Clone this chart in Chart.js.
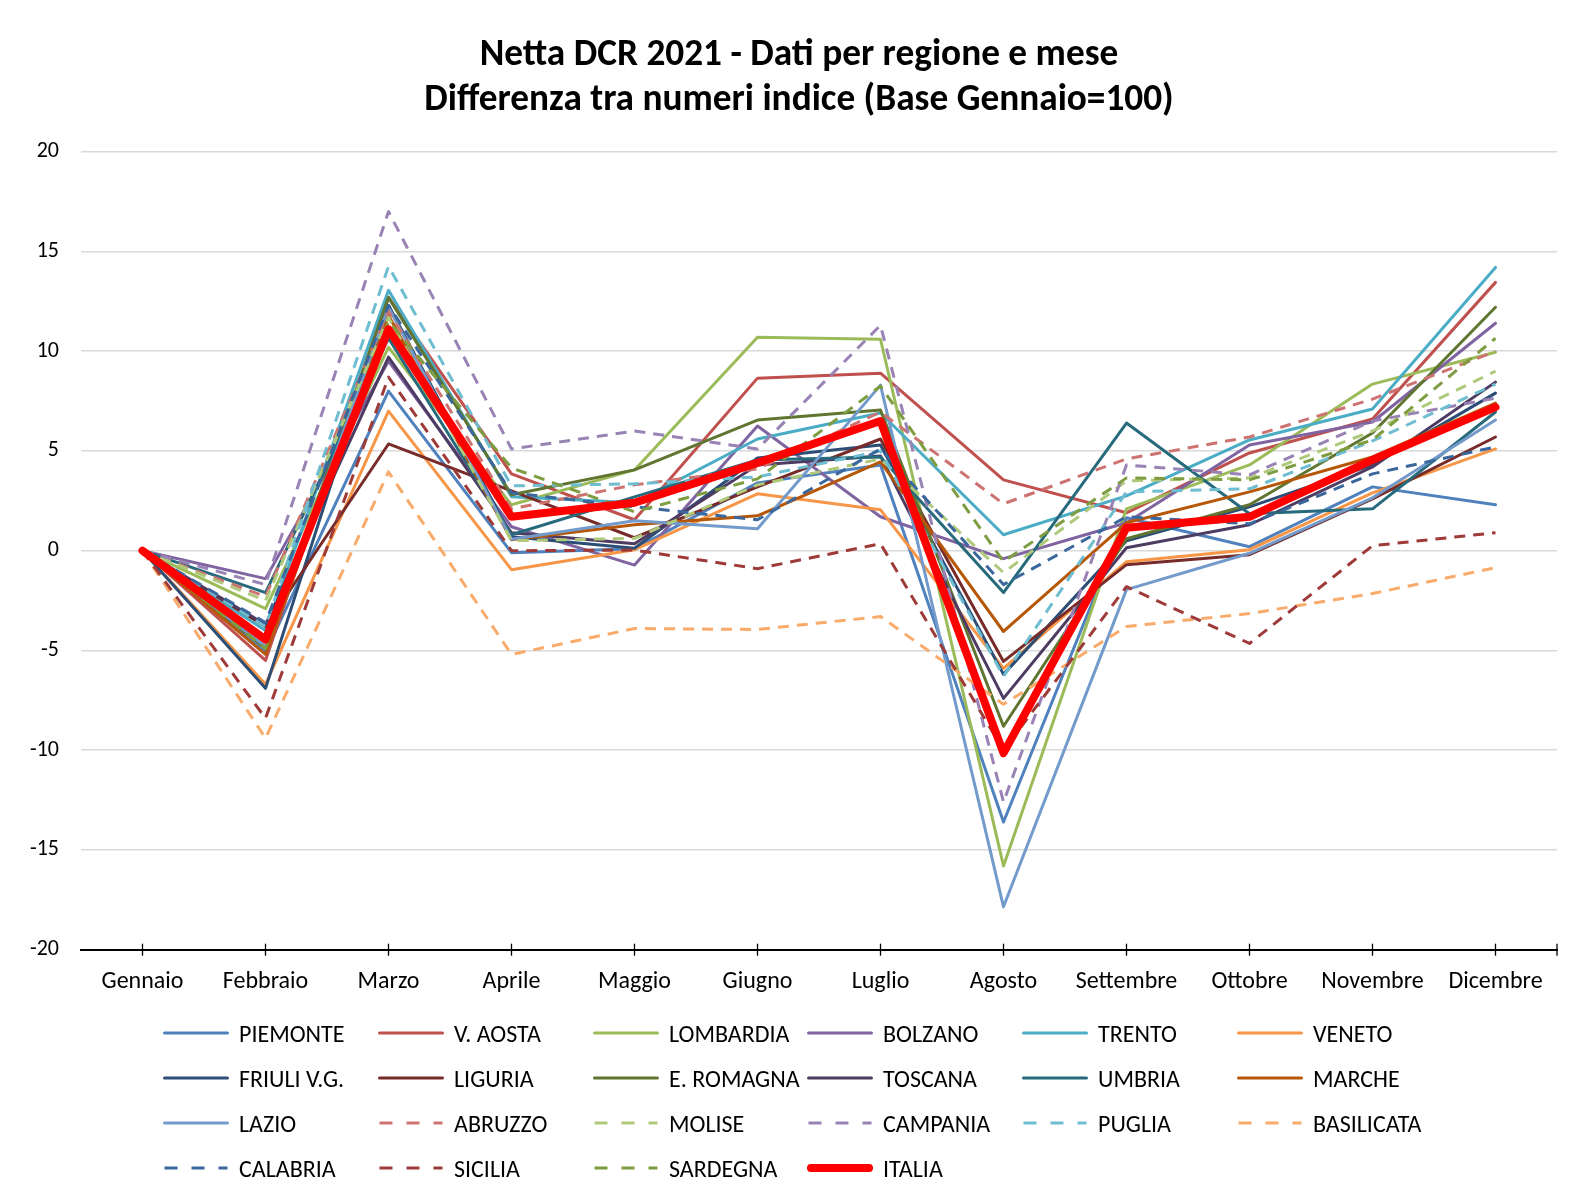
<!DOCTYPE html>
<html>
<head>
<meta charset="utf-8">
<script src="https://cdn.jsdelivr.net/npm/chart.js@4/dist/chart.umd.min.js"></script>
<style>
html,body{margin:0;padding:0;background:#fff;}
#wrap{position:relative;width:1572px;height:1198px;overflow:hidden;font-family:Carlito,Lato,"Noto Sans",sans-serif;color:#000;}
#c{position:absolute;left:0;top:0;}
.title{position:absolute;left:0;width:1598px;text-align:center;font-weight:bold;font-size:37.3px;line-height:45px;white-space:nowrap;}
#legend{position:absolute;left:0;top:0;width:1572px;height:1198px;font-size:24px;}
.item{position:absolute;display:flex;align-items:center;height:30px;white-space:nowrap;}
.item svg{display:block;margin-right:9px;}
</style>
</head>
<body>
<div id="wrap">
<canvas id="c" width="1572" height="1198"></canvas>
<div id="titles"></div>
<div id="legend"></div>
</div>
<script>
// ---- data ----
const MONTHS = ["Gennaio","Febbraio","Marzo","Aprile","Maggio","Giugno","Luglio","Agosto","Settembre","Ottobre","Novembre","Dicembre"];
const TITLE = ["Netta DCR 2021 - Dati per regione e mese","Differenza tra numeri indice (Base Gennaio=100)"];
const Y_MIN = -20, Y_MAX = 20, Y_STEP = 5;

const PIEMONTE   = [0, -5.1, 8.0, -0.1, 0.1, 3.4, 4.3, -13.6, 1.65, 0.2, 3.2, 2.3];
const V_AOSTA    = [0, -5.5, 12.7, 3.85, 1.55, 8.65, 8.9, 3.55, 1.9, 4.9, 6.6, 13.45];
const LOMBARDIA  = [0, -2.9, 10.2, 2.3, 4.05, 10.7, 10.6, -15.8, 2.1, 4.3, 8.35, 9.95];
const BOLZANO    = [0, -1.4, 9.5, 1.2, -0.72, 6.25, 1.7, -0.4, 1.4, 5.3, 6.45, 11.4];
const TRENTO     = [0, -4.0, 13.05, 2.7, 2.4, 5.6, 6.9, 0.8, 2.75, 5.55, 7.1, 14.2];
const VENETO     = [0, -6.7, 7.0, -0.95, 0.05, 2.85, 2.05, -5.9, -0.55, 0.05, 2.9, 5.1];
const FRIULI     = [0, -6.9, 12.3, 0.7, 0.12, 4.65, 5.3, -6.2, 0.5, 2.2, 4.3, 7.9];
const LIGURIA    = [0, -3.8, 5.35, 3.0, 0.65, 3.2, 5.6, -5.55, -0.7, -0.2, 2.6, 5.7];
const E_ROMAGNA  = [0, -4.9, 12.7, 2.8, 4.05, 6.55, 7.05, -8.8, 0.6, 2.3, 5.9, 12.2];
const TOSCANA    = [0, -3.7, 9.7, 0.9, 0.35, 4.3, 4.75, -7.4, 0.15, 1.3, 4.2, 8.45];
const UMBRIA     = [0, -2.1, 10.65, 0.8, 2.7, 4.55, 4.7, -2.1, 6.4, 1.85, 2.1, 6.95];
const MARCHE     = [0, -5.2, 11.8, 0.55, 1.3, 1.75, 4.45, -4.05, 1.4, 2.95, 4.7, 7.4];
const LAZIO      = [0, -4.8, 12.2, 0.57, 1.5, 1.1, 8.3, -17.85, -1.95, -0.13, 2.65, 6.55];
const ABRUZZO    = [0, -2.3, 12.0, 2.1, 3.3, 4.1, 6.95, 2.35, 4.6, 5.7, 7.6, 10.0];
const MOLISE     = [0, -2.5, 11.7, 0.5, 0.62, 3.3, 4.6, -1.1, 3.5, 3.65, 6.0, 9.0];
const CAMPANIA   = [0, -1.7, 17.0, 5.1, 6.0, 5.1, 11.3, -12.6, 4.3, 3.8, 6.5, 7.65];
const PUGLIA     = [0, -3.8, 14.25, 3.25, 3.35, 3.7, 5.0, -6.3, 2.95, 3.1, 5.5, 8.35];
const BASILICATA = [0, -9.4, 3.95, -5.2, -3.9, -3.95, -3.3, -7.7, -3.8, -3.15, -2.15, -0.85];
const CALABRIA   = [0, -3.6, 12.3, 2.9, 2.2, 1.55, 5.1, -1.7, 1.7, 1.35, 3.85, 5.2];
const SICILIA    = [0, -8.4, 8.7, 0.0, 0.03, -0.9, 0.35, -10.0, -1.8, -4.65, 0.25, 0.9];
const SARDEGNA   = [0, -4.9, 11.5, 4.15, 1.95, 3.6, 8.25, -0.55, 3.65, 3.55, 5.55, 10.65];
const ITALIA     = [0, -4.45, 11.1, 1.7, 2.4, 4.4, 6.5, -10.15, 1.15, 1.7, 4.55, 7.2];

const SERIES_NAMES = ["PIEMONTE","V. AOSTA","LOMBARDIA","BOLZANO","TRENTO","VENETO",
  "FRIULI V.G.","LIGURIA","E. ROMAGNA","TOSCANA","UMBRIA","MARCHE",
  "LAZIO","ABRUZZO","MOLISE","CAMPANIA","PUGLIA","BASILICATA",
  "CALABRIA","SICILIA","SARDEGNA","ITALIA"];
const SERIES_VALUES = [PIEMONTE,V_AOSTA,LOMBARDIA,BOLZANO,TRENTO,VENETO,
  FRIULI,LIGURIA,E_ROMAGNA,TOSCANA,UMBRIA,MARCHE,
  LAZIO,ABRUZZO,MOLISE,CAMPANIA,PUGLIA,BASILICATA,
  CALABRIA,SICILIA,SARDEGNA,ITALIA];

// ---- styles ----
const COLORS = ["#4F81BD","#C0504D","#9BBB59","#8064A2","#4BACC6","#F79646",
  "#2C4D75","#772C2A","#5F7530","#4D3B62","#276A7C","#B65708",
  "#729ACA","#CD7371","#AFC97A","#9983B5","#6FBDD1","#F9AB6B",
  "#3A679C","#9E3A38","#7E9C40","#FF0000"];
const DASHED = [false,false,false,false,false,false,
  false,false,false,false,false,false,
  false,true,true,true,true,true,
  true,true,true,false];
const FONT = 'Carlito, Lato, "Noto Sans", sans-serif';

const n = SERIES_NAMES.length;
const datasets = SERIES_NAMES.map((name, i) => {
  const isItalia = name === "ITALIA";
  return {
    label: name,
    data: SERIES_VALUES[i],
    borderColor: COLORS[i],
    backgroundColor: COLORS[i],
    borderWidth: isItalia ? 8 : 3,
    borderDash: DASHED[i] ? [11, 8] : [],
    borderCapStyle: DASHED[i] ? 'butt' : 'round',
    borderJoinStyle: 'round',
    pointRadius: 0,
    pointHoverRadius: 0,
    tension: 0,
    fill: false,
    order: n - i
  };
});

const innerTicks = {
  id: 'innerTicks',
  afterDraw(chart) {
    const xs = chart.scales.x, ctx = chart.ctx, b = chart.chartArea.bottom;
    ctx.save();
    ctx.strokeStyle = '#000';
    ctx.lineWidth = 1.3;
    const xsPix = xs.ticks.map((t, i) => xs.getPixelForTick(i));
    xsPix.push(chart.chartArea.right);
    xsPix.forEach(px => {
      ctx.beginPath();
      ctx.moveTo(px, b - 6);
      ctx.lineTo(px, b + 6);
      ctx.stroke();
    });
    ctx.restore();
  }
};

const chart = new Chart(document.getElementById('c'), {
  type: 'line',
  data: { labels: MONTHS, datasets },
  plugins: [innerTicks],
  options: {
    responsive: false,
    animation: false,
    events: [],
    layout: { padding: { left: 0, right: 15, top: 151.7, bottom: 198 } },
    plugins: {
      legend: { display: false },
      tooltip: { enabled: false },
      title: { display: false }
    },
    scales: {
      x: {
        type: 'category',
        offset: true,
        grid: { display: false, drawTicks: false },
        border: { display: true, color: '#000', width: 2 },
        ticks: { color: '#000', font: { family: FONT, size: 24 }, padding: 18, maxRotation: 0, autoSkip: false },
        afterFit: s => { s.height = 50.3; }
      },
      y: {
        min: Y_MIN, max: Y_MAX,
        ticks: { stepSize: Y_STEP, color: '#000', font: { family: FONT, size: 22 }, padding: 22 },
        grid: { color: '#D9D9D9', lineWidth: 1.5, drawTicks: false },
        border: { display: false },
        afterFit: s => { s.width = 81; }
      }
    }
  }
});

// ---- HTML title ----
const titlesEl = document.getElementById('titles');
TITLE.forEach((t, i) => {
  const d = document.createElement('div');
  d.className = 'title';
  d.style.top = (29.5 + i * 45) + 'px';
  d.textContent = t;
  titlesEl.appendChild(d);
});

// ---- HTML legend built from the chart's datasets ----
const legendEl = document.getElementById('legend');
const COL_X = [162, 377, 592, 806, 1021, 1236];
const ROW_Y = [1033, 1078, 1123, 1168];
chart.data.datasets.forEach((ds, i) => {
  const col = i % 6, row = Math.floor(i / 6);
  const item = document.createElement('div');
  item.className = 'item';
  item.style.left = COL_X[col] + 'px';
  item.style.top = (ROW_Y[row] - 15) + 'px';
  const w = ds.borderWidth;
  const dash = ds.borderDash.length ? 'stroke-dasharray="13 14"' : '';
  const cap = ds.borderDash.length ? 'butt' : 'round';
  item.innerHTML = '<svg width="68" height="12"><line x1="' + (w / 2 + 1) + '" y1="6" x2="' + (67 - w / 2) + '" y2="6" stroke="' + ds.borderColor + '" stroke-width="' + w + '" stroke-linecap="' + cap + '" ' + dash + '/></svg><span>' + ds.label + '</span>';
  legendEl.appendChild(item);
});
</script>
</body>
</html>
